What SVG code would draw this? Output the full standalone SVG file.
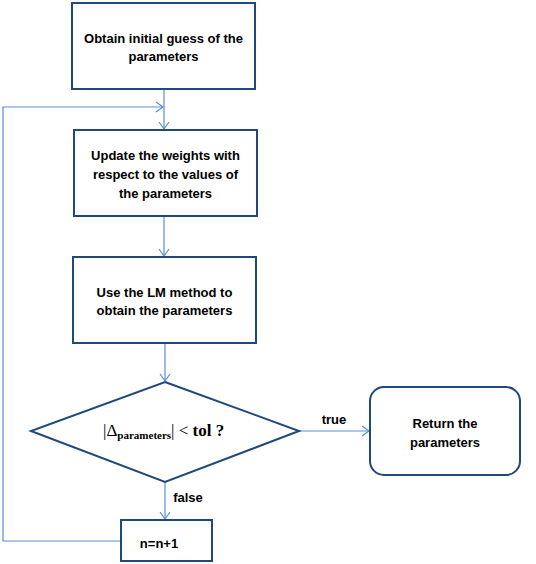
<svg xmlns="http://www.w3.org/2000/svg" width="536" height="564" viewBox="0 0 536 564">
<style>
.box{fill:#fff;stroke:#1F497D;stroke-width:2}
.t{font-family:"Liberation Sans",Arial,sans-serif;font-weight:bold;font-size:13px;fill:#000;text-anchor:middle}
.c{fill:none;stroke:#5B8FD0;stroke-width:1.2}
.m{font-family:"Liberation Serif","Times New Roman",serif;fill:#000}
</style>
<defs>
<marker id="ah" markerWidth="10" markerHeight="12" refX="8" refY="6" orient="auto" markerUnits="userSpaceOnUse">
<path d="M1,1 L8,6 L1,11" fill="none" stroke="#5B8FD0" stroke-width="1.2"/>
</marker>
</defs>
<rect width="536" height="564" fill="#fff"/>
<g id="connectors">
<path class="c" d="M164,89 V129" marker-end="url(#ah)"/>
<path class="c" d="M120,541 H3 V107 H163" marker-end="url(#ah)"/>
<path class="c" d="M164,216 V256" marker-end="url(#ah)"/>
<path class="c" d="M165,343 V381" marker-end="url(#ah)"/>
<path class="c" d="M299,431 H369" marker-end="url(#ah)"/>
<path class="c" d="M165,482 V519" marker-end="url(#ah)"/>
<text class="t" x="334" y="424">true</text>
<text class="t" x="188" y="502">false</text>
</g>
<g id="n1">
<rect class="box" x="72" y="3" width="183" height="86"/>
<text class="t" x="163.5" y="43">Obtain initial guess of the</text>
<text class="t" x="163.5" y="61">parameters</text>
</g>
<g id="n2">
<rect class="box" x="74" y="130" width="183" height="86"/>
<text class="t" x="165.5" y="160">Update the weights with</text>
<text class="t" x="165.5" y="179">respect to the values of</text>
<text class="t" x="165.5" y="198">the parameters</text>
</g>
<g id="n3">
<rect class="box" x="73" y="257" width="183" height="86"/>
<text class="t" x="164.5" y="297">Use the LM method to</text>
<text class="t" x="164.5" y="315">obtain the parameters</text>
</g>
<g id="n4">
<polygon class="box" points="165,382 299,431 165,482 31,431"/>
<text class="m" x="103" y="436" font-size="17">|Δ<tspan font-size="11" font-weight="bold" dy="3">parameters</tspan><tspan dy="-3">|</tspan> &lt;  <tspan font-weight="bold">tol ?</tspan></text>
</g>
<g id="n5">
<rect class="box" x="370" y="387" width="150" height="88" rx="14" ry="14"/>
<text class="t" x="445" y="428">Return the</text>
<text class="t" x="445" y="447">parameters</text>
</g>
<g id="n6">
<rect class="box" x="121" y="520" width="91" height="41"/>
<text class="t" x="159" y="548">n=n+1</text>
</g>
</svg>
